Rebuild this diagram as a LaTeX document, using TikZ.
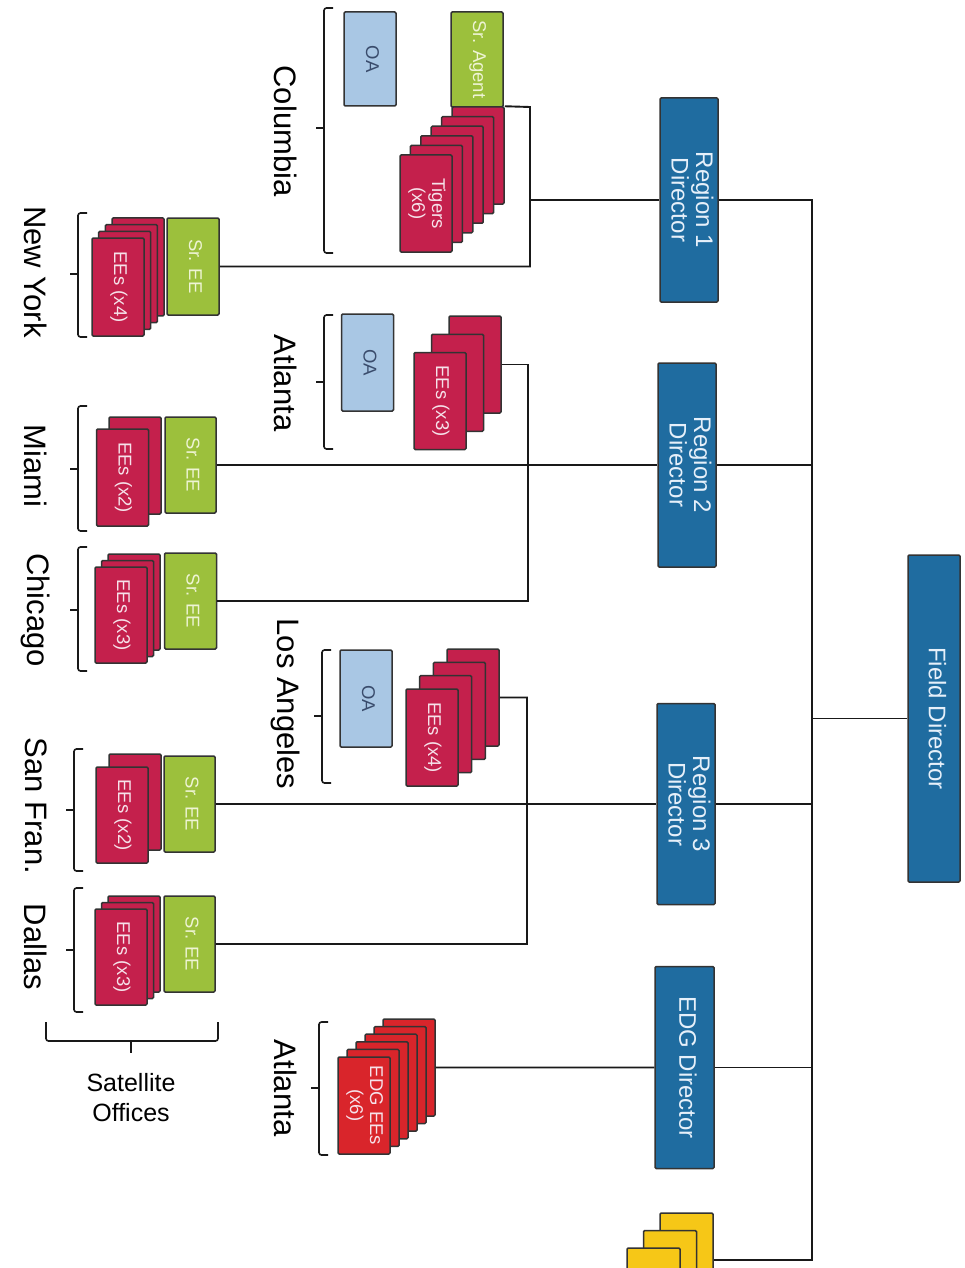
\documentclass[tikz,border=0pt]{standalone}
\usepackage{fontspec}
\setmainfont{Liberation Sans}
\usepackage{graphicx}
\definecolor{dirblue}{HTML}{1F6CA0}
\definecolor{dirtext}{HTML}{E6F0FA}
\definecolor{crim}{HTML}{C4204C}
\definecolor{emptext}{HTML}{F6E2EA}
\definecolor{edgred}{HTML}{D9252B}
\definecolor{grn}{HTML}{9CC03C}
\definecolor{srtext}{HTML}{EEF4D4}
\definecolor{oablue}{HTML}{A9C7E4}
\definecolor{oatext}{HTML}{3A4C6C}
\definecolor{yel}{HTML}{F6C717}
\newcommand{\vtxt}[1]{\rotatebox{-90}{\begin{tabular}{@{}c@{}}#1\end{tabular}}}
\newcommand{\grpbracket}[4]{%
  \draw[brk] ({#1+9},#2) -- (#1,#2) -- (#1,#3) -- ({#1+9},#3);
  \draw[nub] (#1,#4) -- ({#1-8},#4);}
\begin{document}
\begin{tikzpicture}[x=1pt,y=-1pt,
 conn/.style={draw=black!90, line width=1.9pt},
 brk/.style={draw=black!90, line width=1.6pt, rounded corners=2.5pt},
 nub/.style={draw=black!90, line width=1.6pt},
 boxbase/.style={draw=black!80, line width=1.5pt, rounded corners=1.2pt, inner sep=0pt, align=center},
 dirbox/.style={boxbase, fill=dirblue, text=dirtext, minimum width=58, minimum height=204, font=\fontsize{24}{24}\selectfont},
 empbox/.style={boxbase, fill=crim, text=emptext, minimum width=52, minimum height=97, font=\fontsize{18.5}{20}\selectfont},
 edgbox/.style={empbox, fill=edgred},
 srbox/.style={boxbase, fill=grn, text=srtext, minimum width=52, minimum height=96, font=\fontsize{18.5}{20}\selectfont},
 oabox/.style={boxbase, fill=oablue, text=oatext, minimum width=52, minimum height=97, font=\fontsize{18.5}{20}\selectfont},
 yelbox/.style={boxbase, fill=yel, minimum width=53, minimum height=97},
 lbl/.style={inner sep=0pt, font=\fontsize{31}{31}\selectfont},
]
\useasboundingbox (0,0) rectangle (964,1268);
\fill[white] (0,0) rectangle (964,1268);
\clip (0,0) rectangle (964,1268);

% ---------- directors ----------
\node[dirbox, minimum width=52, minimum height=327] (fd) at (934,718.5) {\vtxt{Field Director}};
\node[dirbox] (r1) at (689,200) {\vtxt{Region 1\\Director}};
\node[dirbox] (r2) at (687,465) {\vtxt{Region 2\\Director}};
\node[dirbox, minimum height=201] (r3) at (686,804) {\vtxt{Region 3\\Director}};
\node[dirbox, minimum width=59, minimum height=202] (edgD) at (684.5,1067.5) {\vtxt{EDG Director}};

% ---------- Columbia ----------
\node[oabox, minimum height=94] (colOA) at (370,59) {\vtxt{OA}};
\node[srbox, minimum height=95] (colSr) at (477,59.5) {\vtxt{Sr. Agent}};
\foreach \i in {5,4,3,2,1} \node[empbox] (tig\i) at ({426+10.4*\i},{203.5-9.6*\i}) {};
\node[empbox] (tig0) at (426,203.5) {\vtxt{Tigers\\(x6)}};

% ---------- New York ----------
\foreach \i in {3,2,1} \node[empbox, minimum height=98] (ny\i) at ({118+6.67*\i},{287-6.67*\i}) {};
\node[empbox, minimum height=98] (ny0) at (118,287) {\vtxt{EEs (x4)}};
\node[srbox, minimum height=97] (nySr) at (193,266.5) {\vtxt{Sr. EE}};

% ---------- Atlanta (Region 2) ----------
\node[oabox] (atlOA) at (367.5,362.5) {\vtxt{OA}};
\foreach \i in {2,1} \node[empbox] (atl\i) at ({440+17.5*\i},{401-18.25*\i}) {};
\node[empbox] (atl0) at (440,401) {\vtxt{EEs (x3)}};

% ---------- Miami ----------
\node[empbox] (mi1) at (135,465.5) {};
\node[empbox] (mi0) at (122.5,477.5) {\vtxt{EEs (x2)}};
\node[srbox, minimum width=51] (miSr) at (190.5,465) {\vtxt{Sr. EE}};

% ---------- Chicago ----------
\foreach \i in {2,1} \node[empbox, minimum height=96] (ch\i) at ({121+6.5*\i},{615-6.5*\i}) {};
\node[empbox, minimum height=96] (ch0) at (121,615) {\vtxt{EEs (x3)}};
\node[srbox] (chSr) at (190.5,601) {\vtxt{Sr. EE}};

% ---------- Los Angeles ----------
\node[oabox] (laOA) at (366,698.5) {\vtxt{OA}};
\foreach \i in {3,2,1} \node[empbox] (la\i) at ({432+13.67*\i},{737.5-13.33*\i}) {};
\node[empbox] (la0) at (432,737.5) {\vtxt{EEs (x4)}};

% ---------- San Fran. ----------
\node[empbox, minimum height=96] (sf1) at (135,802) {};
\node[empbox, minimum height=96] (sf0) at (122,815) {\vtxt{EEs (x2)}};
\node[srbox, minimum width=51] (sfSr) at (189.5,804) {\vtxt{Sr. EE}};

% ---------- Dallas ----------
\foreach \i in {2,1} \node[empbox, minimum height=96] (dal\i) at ({121+6.5*\i},{957-6.5*\i}) {};
\node[empbox, minimum height=96] (dal0) at (121,957) {\vtxt{EEs (x3)}};
\node[srbox, minimum width=51] (dalSr) at (189.5,944) {\vtxt{Sr. EE}};

% ---------- EDG Atlanta ----------
\foreach \i in {5,4,3,2,1} \node[edgbox] (edg\i) at ({364+9*\i},{1105.5-7.6*\i}) {};
\node[edgbox] (edg0) at (364,1105.5) {\vtxt{EDG EEs\\(x6)}};

% ---------- yellow stack (cut off) ----------
\foreach \i in {2,1,0} \node[yelbox] (yel\i) at ({653.5+16.5*\i},{1296.5-17.5*\i}) {};

% ---------- connectors ----------
\coordinate (tt) at (812,200);
\coordinate (tb) at (812,1260);
\draw[conn] (r1.east) -- (tt) -- (tb) -- (tb -| yel2.east);
\draw[conn] (fd.west) -- (fd.west -| tt);
\draw[conn] (r2.east) -- (r2.east -| tt);
\draw[conn] (r3.east) -- (r3.east -| tt);
\draw[conn] (edgD.east) -- (edgD.east -| tt);

\coordinate (v1t) at (530,107);
\draw[conn] (tig5.north east) -- (v1t) -- (v1t |- nySr.east) -- (nySr.east);
\draw[conn] (r1.west) -- (r1.west -| v1t);

\draw[conn] (miSr.east) -- (r2.west);
\coordinate (v2t) at (528,364.5);
\draw[conn] (atl2.east) -- (v2t) -- (v2t |- chSr.east) -- (chSr.east);

\draw[conn] (sfSr.east) -- (r3.west);
\coordinate (v3t) at (527,697.5);
\draw[conn] (la3.east) -- (v3t) -- (v3t |- dalSr.east) -- (dalSr.east);

\draw[conn] (edg5.east) -- (edgD.west);

% ---------- brackets ----------
\grpbracket{324}{8}{253}{128}
\grpbracket{78}{213}{337}{274}
\grpbracket{78}{406}{531}{469}
\grpbracket{78}{547}{671}{610}
\grpbracket{324}{315}{449}{382}
\grpbracket{322}{650}{783}{716}
\grpbracket{74}{749}{871}{810}
\grpbracket{74}{888}{1012}{950}
\grpbracket{319}{1022}{1155}{1088}

\draw[brk] (46,1022) -- (46,1041) -- (218,1041) -- (218,1022);
\draw[nub] (131,1041) -- (131,1053);
\node[align=center, inner sep=0pt, font=\fontsize{25}{30}\selectfont] (sat) at (131,1098) {Satellite\\Offices};

% ---------- labels ----------
\node[lbl] (lCol) at (286,131) {\rotatebox{-90}{Columbia}};
\node[lbl] (lNY) at (36,272) {\rotatebox{-90}{New York}};
\node[lbl] (lAtl) at (286,383) {\rotatebox{-90}{Atlanta}};
\node[lbl] (lMia) at (36,466) {\rotatebox{-90}{Miami}};
\node[lbl] (lChi) at (36,610) {\rotatebox{-90}{Chicago}};
\node[lbl] (lLA) at (286,704) {\rotatebox{-90}{Los Angeles}};
\node[lbl] (lSF) at (36,806) {\rotatebox{-90}{San Fran.}};
\node[lbl] (lDal) at (36,947) {\rotatebox{-90}{Dallas}};
\node[lbl] (lAtlE) at (286,1088) {\rotatebox{-90}{Atlanta}};
\end{tikzpicture}
\end{document}
